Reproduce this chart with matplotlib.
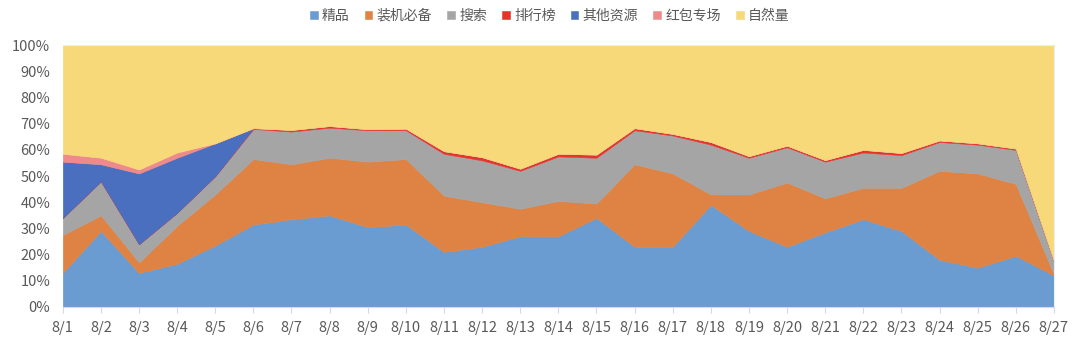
import matplotlib.pyplot as plt
import numpy as np

plt.rcParams['font.family'] = ['Noto Sans CJK SC', 'DejaVu Sans']

days = [f"8/{d}" for d in range(1, 28)]
series_names = ["精品", "装机必备", "搜索", "排行榜", "其他资源", "红包专场", "自然量"]

jingpin = [13, 29, 13, 16.5, 23.5, 31.5, 33.5, 35, 30.5, 31.5, 21, 23, 27, 27, 34,
           23, 23, 39, 29, 23, 28.5, 33.5, 29, 18, 15, 19.5, 12]
zhuangji = [14.5, 6, 4, 14.5, 19.5, 25, 21, 22, 25, 25, 21.5, 17, 10.5, 13.5, 5.5,
            31.5, 28, 4, 14, 24.5, 13, 12, 16.5, 34, 36, 27.5, 0.5]
sousuo = [6.5, 13, 7, 5, 7, 11.5, 12.5, 11.5, 12, 11, 16, 16, 14.5, 17, 17.5,
          13, 14.5, 19, 14, 13.5, 14, 13.5, 12.5, 11, 11, 13, 5]
paihang = [0, 0, 0, 0, 0, 0.3, 0.6, 0.6, 0.4, 0.6, 1, 1.2, 0.8, 1, 1.2,
           0.8, 0.6, 1, 0.6, 0.6, 0.6, 1, 0.8, 0.6, 0.5, 0.5, 0.2]
qita = [21.5, 6.5, 27, 21, 12.5, 0, 0, 0, 0, 0, 0, 0, 0, 0, 0,
        0, 0, 0, 0, 0, 0, 0, 0, 0, 0, 0, 0]
hongbao = [3, 2.5, 1.5, 2, 0, 0, 0, 0, 0, 0, 0, 0, 0, 0, 0,
           0, 0, 0, 0, 0, 0, 0, 0, 0, 0, 0, 0]
ziran = [41.5, 43, 47.5, 41, 37.5, 31.7, 32.4, 30.9, 32.1, 31.9, 40.5, 42.8, 47.2, 41.5, 41.8,
         31.7, 33.9, 37, 42.4, 38.4, 43.9, 40, 41.2, 36.4, 37.5, 39.5, 82.3]

colors = ["#6A9BD1", "#DE8344", "#A5A5A5", "#E8332A", "#4A6FBF", "#EF8A8C", "#F7D97A"]

data = np.array([jingpin, zhuangji, sousuo, paihang, qita, hongbao, ziran], dtype=float)
data = data / data.sum(axis=0) * 100
x = np.arange(len(days))

fig = plt.figure(figsize=(10.82, 3.5), dpi=100)
ax = fig.add_axes([0.058, 0.123, 0.916, 0.748])
polys = ax.stackplot(x, data, colors=colors, labels=series_names, linewidth=0.4)
for p, c in zip(polys, colors):
    p.set_edgecolor(c)

ax.set_xlim(0, len(days) - 1)
ax.set_ylim(0, 100)
ax.set_xticks(x)
ax.set_xticklabels(days)
ax.set_yticks(np.arange(0, 101, 10))
ax.set_yticklabels([f"{v}%" for v in range(0, 101, 10)])
ax.tick_params(axis='y', length=0, pad=9, labelsize=10.5, labelcolor="#595959")
ax.tick_params(axis='x', length=4, color="#D9D9D9", pad=6, labelsize=10.5, labelcolor="#595959")
ax.spines["left"].set_visible(False)
for s in ["top", "right"]:
    ax.spines[s].set_color("#E8EEF6")
    ax.spines[s].set_linewidth(0.8)
ax.spines["bottom"].set_color("#D9D9D9")

handles, labels = ax.get_legend_handles_labels()
fig.legend(handles, labels, loc="upper center", bbox_to_anchor=(0.508, 1.01), ncol=7,
           frameon=False, fontsize=10, handlelength=0.55, handleheight=0.55,
           handletextpad=0.3, columnspacing=1.1, labelcolor="#595959")

fig.savefig("out.png", dpi=100)
